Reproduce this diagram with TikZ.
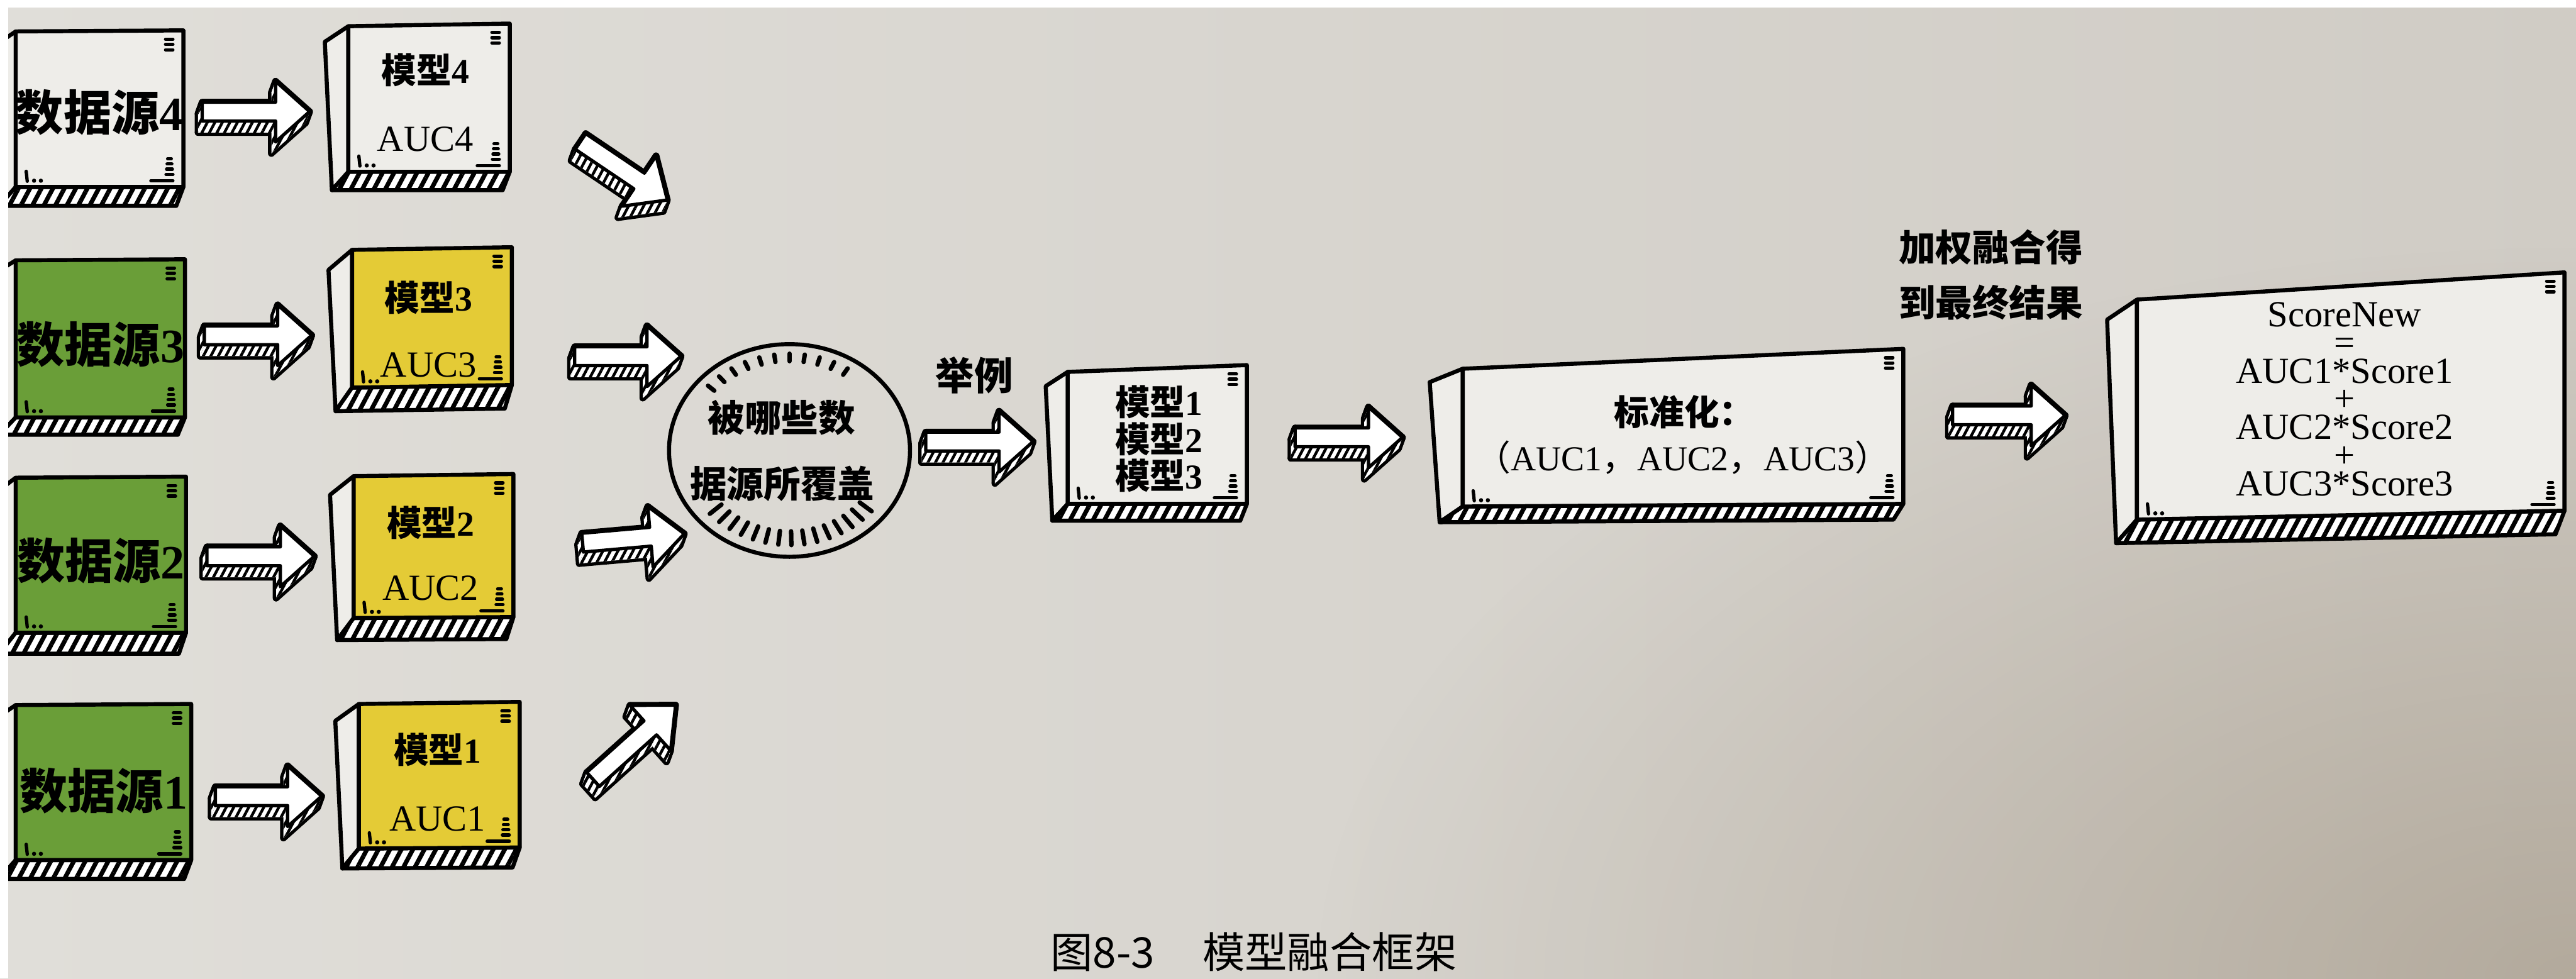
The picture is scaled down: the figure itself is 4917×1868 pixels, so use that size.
\documentclass[tikz,border=0pt]{standalone}
\usepackage{fontspec}
\setmainfont{Liberation Serif}
\newfontfamily\cjk{Noto Sans CJK SC}
\usetikzlibrary{calc,patterns.meta,fadings}
\definecolor{paperL}{RGB}{224,222,217}
\definecolor{paperR}{RGB}{208,204,197}
\definecolor{paperD}{RGB}{150,136,116}
\definecolor{boxwhite}{RGB}{238,237,233}
\definecolor{dsgreen}{RGB}{106,158,56}
\definecolor{myellow}{RGB}{228,203,54}
\tikzfading[name=cornerfade, inner color=transparent!0, outer color=transparent!100]
\newcommand\fsz[1]{\fontsize{#1}{#1}\selectfont}
\tikzset{
  boxline/.style={line width=2.2pt, line join=round, draw=black},
  slabhatch/.style={pattern={Lines[angle=62,distance=5.5pt,line width=2.4pt]}},
  arrowhatch/.style={pattern={Lines[angle=62,distance=3.6pt,line width=1.5pt]}},
  deco/.style={line width=1.8pt, line cap=round},
  tick/.style={line width=2.4pt, line cap=round},
  txt/.style={inner sep=0pt, align=center},
}
% 3D box: #1 colour, #2 x0, #3 y0 left, #4 x1, #5 y0 right, #6 y1 left, #7 y1 right, #8 side dx, #9 slab depth
\newcommand{\cube}[9]{%
  \filldraw[boxline, fill=boxwhite] (#2,#3) -- ({#2-#8},{#3+0.85*#9}) -- ({#2-0.7*#8},{#6+#9}) -- (#2,#6) -- cycle;
  \filldraw[boxline, preaction={fill=white}, slabhatch] (#2,#6) -- ({#2-0.7*#8},{#6+#9}) -- ({#4-0.3*#8},{#7+#9}) -- (#4,#7) -- cycle;
  \filldraw[boxline, fill=#1] (#2,#3) -- (#4,#5) -- (#4,#7) -- (#2,#6) -- cycle;
  \draw[deco] ({#4-34},{#5+17}) -- ++(14,0) ({#4-34},{#5+27}) -- ++(14,0) ({#4-34},{#5+37}) -- ++(14,0);
  \draw[deco] ({#4-30},{#7-54}) -- ++(7,0) ({#4-31},{#7-44}) -- ++(9,0) ({#4-32},{#7-34}) -- ++(11,0)
              ({#4-33},{#7-24}) -- ++(13,0) ({#4-62},{#7-12}) -- ({#4-20},{#7-12});
  \draw[deco] ({#2+20},{#6-30}) -- ({#2+22},{#6-11});
  \fill ({#2+35},{#6-12}) circle (4) ({#2+48},{#6-12}) circle (4);
}
% 3D block arrow: #1 name, #2 x, #3 y (tail centre), #4 angle, #5 length
\newcommand{\barrow}[5]{%
  \begin{scope}[shift={(#2,#3)},rotate=#4]
    \coordinate (#1-1) at (0,-18);
    \coordinate (#1-2) at ({#5-65},-18);
    \coordinate (#1-3) at ({#5-65},-58);
    \coordinate (#1-4) at (#5,0);
    \coordinate (#1-5) at ({#5-65},58);
    \coordinate (#1-6) at ({#5-65},18);
    \coordinate (#1-7) at (0,18);
  \end{scope}
  \foreach \a/\b in {1/2,2/3,3/4,4/5,5/6,6/7,7/1}{
    \filldraw[line width=3.6pt,line join=round] (#1-\a) -- (#1-\b) -- ($(#1-\b)+(-8,22)$) -- ($(#1-\a)+(-8,22)$) -- cycle;}
  \foreach \a/\b in {1/2,2/3,3/4,4/5,5/6,6/7,7/1}{
    \fill[white] (#1-\a) -- (#1-\b) -- ($(#1-\b)+(-8,22)$) -- ($(#1-\a)+(-8,22)$) -- cycle;}
  \foreach \a/\b in {1/2,2/3,3/4,4/5,5/6,6/7,7/1}{
    \fill[arrowhatch] (#1-\a) -- (#1-\b) -- ($(#1-\b)+(-8,22)$) -- ($(#1-\a)+(-8,22)$) -- cycle;}
  \filldraw[fill=white, line width=1.8pt, line join=round] (#1-1) -- (#1-2) -- (#1-3) -- (#1-4) -- (#1-5) -- (#1-6) -- (#1-7) -- cycle;
}
\begin{document}
\begin{tikzpicture}[x=0.01cm,y=-0.01cm]
\useasboundingbox (0,0) rectangle (4917,1868);
\shade[left color=paperL, right color=paperR] (0,0) rectangle (4917,1868);
\begin{scope}
  \clip (0,0) rectangle (4917,1868);
  \fill[paperD, opacity=0.5, path fading=cornerfade] (4917,1868) ellipse [x radius=2400, y radius=1400];
\end{scope}

% data sources
\cube{boxwhite}{30}{60}{350}{58}{357}{357}{45}{36}
\cube{dsgreen}{30}{497}{353}{495}{797}{797}{45}{33}
\cube{dsgreen}{30}{912}{355}{910}{1208}{1208}{45}{40}
\cube{dsgreen}{30}{1346}{365}{1344}{1642}{1642}{45}{36}
\node[txt, font={\fsz{26pt}\bfseries}] (ds4) at (190,215) {{\cjk 数据源}4};
\node[txt, font={\fsz{26pt}\bfseries}] (ds3) at (192,657) {{\cjk 数据源}3};
\node[txt, font={\fsz{26pt}\bfseries}] (ds2) at (193,1070) {{\cjk 数据源}2};
\node[txt, font={\fsz{26pt}\bfseries}] (ds1) at (198,1510) {{\cjk 数据源}1};

% models
\cube{boxwhite}{665}{50}{973}{45}{328}{328}{45}{35}
\cube{myellow}{672}{477}{977}{472}{740}{735}{45}{45}
\cube{myellow}{675}{909}{980}{905}{1180}{1178}{45}{42}
\cube{myellow}{685}{1344}{992}{1340}{1620}{1618}{45}{38}
\node[txt, font={\fsz{19pt}\bfseries}] (m4) at (812,134) {{\cjk 模型}4};
\node[txt, font={\fsz{20pt}}] (auc4) at (812,266) {AUC4};
\node[txt, font={\fsz{19pt}\bfseries}] (m3) at (818,568) {{\cjk 模型}3};
\node[txt, font={\fsz{20pt}}] (auc3) at (818,697) {AUC3};
\node[txt, font={\fsz{19pt}\bfseries}] (m2) at (822,998) {{\cjk 模型}2};
\node[txt, font={\fsz{20pt}}] (auc2) at (822,1123) {AUC2};
\node[txt, font={\fsz{19pt}\bfseries}] (m1) at (835,1431) {{\cjk 模型}1};
\node[txt, font={\fsz{20pt}}] (auc1) at (835,1563) {AUC1};

% arrows source -> model
\barrow{a4}{386}{213}{0}{205}
\barrow{a3}{390}{640}{0}{205}
\barrow{a2}{395}{1062}{0}{205}
\barrow{a1}{411}{1520}{0}{203}
% arrows model -> ellipse
\barrow{b4}{1108}{270}{-34}{200}
\barrow{b3}{1097}{680}{0}{203}
\barrow{b2}{1112}{1036}{5}{195}
\barrow{b1}{1132}{1488}{42}{212}

% ellipse
\draw[line width=2.2pt] (1507,860) ellipse [x radius=230, y radius=203];
\foreach \t in {222,230,...,306}
  \draw[tick] ({1507+0.84*230*cos(\t)},{860+0.84*203*sin(\t)}) -- ({1507+0.91*230*cos(\t)},{860+0.91*203*sin(\t)});
\foreach \t in {40,47,...,138}
  \draw[tick] ({1507+0.76*230*cos(\t)},{860+0.76*203*sin(\t)}) -- ({1507+0.89*230*cos(\t)},{860+0.89*203*sin(\t)});
\node[txt, font={\fsz{20pt}\bfseries\cjk}] (cov1) at (1492,797) {被哪些数};
\node[txt, font={\fsz{20pt}\bfseries\cjk}] (cov2) at (1493,923) {据源所覆盖};

\node[txt, font={\fsz{21pt}\bfseries\cjk}] (eg) at (1860,716) {举例};
\barrow{c}{1767}{843}{0}{205}

% model list box
\cube{boxwhite}{2038}{710}{2380}{697}{962}{962}{42}{32}
\node[txt, font={\fsz{19pt}\bfseries}] (l1) at (2212,768) {{\cjk 模型}1};
\node[txt, font={\fsz{19pt}\bfseries}] (l2) at (2212,838) {{\cjk 模型}2};
\node[txt, font={\fsz{19pt}\bfseries}] (l3) at (2212,908) {{\cjk 模型}3};
\barrow{d}{2472}{835}{0}{205}

% normalisation box
\cube{boxwhite}{2792}{704}{3633}{666}{967}{962}{63}{30}
\node[txt, font={\fsz{19pt}\bfseries\cjk}] (norm) at (3215,786) {标准化：};
\node[txt, font={\fsz{19pt}}] (normv) at (3212,873) {{\cjk （}AUC1{\cjk ，}AUC2{\cjk ，}AUC3{\cjk ）}};

\node[txt, font={\fsz{20pt}\bfseries\cjk}] (w1) at (3800,472) {加权融合得};
\node[txt, font={\fsz{20pt}\bfseries\cjk}] (w2) at (3800,578) {到最终结果};
\barrow{e}{3727}{793}{0}{215}

% final box
\cube{boxwhite}{4079}{572}{4895}{520}{992}{975}{57}{45}
\node[txt, font={\fontsize{20pt}{15.3pt}\selectfont}] (fin) at (4475,762)
  {ScoreNew\\=\\AUC1*Score1\\+\\AUC2*Score2\\+\\AUC3*Score3};

% caption
\node[txt, font={\fsz{23pt}\cjk}] (cap) at (2393,1817) {图8-3\hspace{26pt}模型融合框架};

% photo border
\fill[white] (0,0) rectangle (16,1868);
\fill[white] (0,0) rectangle (4917,14);
\end{tikzpicture}
\end{document}
